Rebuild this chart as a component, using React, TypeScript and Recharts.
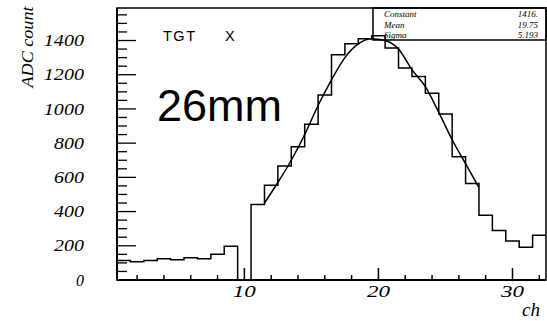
import React from "react";
import {
  ComposedChart,
  Line,
  XAxis,
  YAxis,
  ReferenceArea,
} from "recharts";

// histogram: one value per channel (bin centred on the channel number)
const channels = [
  1, 2, 3, 4, 5, 6, 7, 8, 9, 10, 11, 12, 13, 14, 15, 16,
  17, 18, 19, 20, 21, 22, 23, 24, 25, 26, 27, 28, 29, 30, 31, 32,
];
const adcCounts = [
  114, 107, 114, 124, 118, 130, 124, 150, 198, 0, 441, 554, 667, 779, 910, 1082,
  1317, 1381, 1410, 1428, 1356, 1239, 1190, 1092, 970, 720, 564, 378, 290, 228, 192, 261,
];

// gaussian fit curve
const fitCh = [
  11.5, 12.5, 13.5, 14.5, 15.5, 16.5, 17.5, 18.5, 19.5, 20.5, 21.5, 22.5, 23.5,
  24.5, 25.5, 26.5, 27.5,
];
const fitVal = [
  450, 570, 700, 850, 1020, 1170, 1300, 1380, 1410, 1400, 1350, 1230, 1130,
  980, 820, 680, 540,
];

const xTicks = [2, 4, 6, 8, 10, 12, 14, 16, 18, 20, 22, 24, 26, 28, 30, 32];
const yTicks = [
  0, 50, 100, 150, 200, 250, 300, 350, 400, 450, 500, 550, 600, 650, 700, 750,
  800, 850, 900, 950, 1000, 1050, 1100, 1150, 1200, 1250, 1300, 1350, 1400,
  1450, 1500, 1550,
];

const statNames = ["Constant", "Mean", "Sigma"];
const statValues = ["1416.", "19.75", "5.193"];

const X_MIN = 0.5;
const X_MAX = 32.5;
const Y_MAX = 1590;

const serif = "'Liberation Serif', 'DejaVu Serif', serif";
const sans = "'Liberation Sans', Arial, sans-serif";

// step line points: low edge of every bin + the last upper edge
const histData = channels.map((ch, i) => ({ x: ch - 0.5, y: adcCounts[i] }));
histData.push({ x: channels[channels.length - 1] + 0.5, y: adcCounts[adcCounts.length - 1] });

const fitData = fitCh.map((x, i) => ({ x, y: fitVal[i] }));

const XTick = (props: any) => {
  const { x, y, payload } = props;
  const v = payload.value;
  const major = v % 10 === 0;
  return (
    <g>
      <line x1={x} x2={x} y1={y} y2={y - (major ? 12 : 5)} stroke="#000" strokeWidth={1.5} />
      {major && (
        <text
          x={x}
          y={y + 17}
          textAnchor="middle"
          fontFamily={serif}
          fontStyle="italic"
          fontSize={16}
          textLength={23}
          lengthAdjust="spacingAndGlyphs"
          fill="#000"
        >
          {v}
        </text>
      )}
    </g>
  );
};

const YTick = (props: any) => {
  const { x, y, payload } = props;
  const v = payload.value;
  const major = v % 200 === 0;
  const label = String(v);
  return (
    <g>
      {v > 0 && (
        <line x1={x} x2={x + (major ? 19 : 10)} y1={y} y2={y} stroke="#000" strokeWidth={1.3} />
      )}
      {major && (
        <text
          x={x - 33}
          y={y}
          dy="0.35em"
          textAnchor="end"
          fontFamily={serif}
          fontStyle="italic"
          fontSize={16}
          textLength={label.length > 1 ? label.length * 10.3 - 1 : undefined}
          lengthAdjust="spacingAndGlyphs"
          fill="#000"
        >
          {label}
        </text>
      )}
    </g>
  );
};

export default function App() {
  return (
    <div style={{ position: "absolute", left: 0, top: 0, width: 547, height: 321, background: "#fff" }}>
      <ComposedChart
        width={547}
        height={321}
        margin={{ top: 8, right: 1, left: 0, bottom: 0 }}
      >
        <XAxis
          dataKey="x"
          type="number"
          domain={[X_MIN, X_MAX]}
          ticks={xTicks}
          allowDataOverflow
          height={41}
          tickSize={0}
          tickMargin={0}
          tickLine={false}
          axisLine={{ stroke: "#000", strokeWidth: 2 }}
          tick={<XTick />}
          interval={0}
        />
        <YAxis
          type="number"
          domain={[0, Y_MAX]}
          ticks={yTicks}
          allowDataOverflow
          width={117}
          tickSize={0}
          tickMargin={0}
          tickLine={false}
          axisLine={{ stroke: "#000", strokeWidth: 2 }}
          tick={<YTick />}
          interval={0}
        />
        <ReferenceArea
          x1={X_MIN}
          x2={X_MAX}
          y1={0}
          y2={Y_MAX}
          stroke="#000"
          strokeWidth={1.5}
          fill="none"
          ifOverflow="visible"
        />
        <Line
          data={histData}
          dataKey="y"
          type="stepAfter"
          stroke="#000"
          strokeWidth={1.5}
          dot={false}
          isAnimationActive={false}
        />
        <Line
          data={fitData}
          dataKey="y"
          type="monotone"
          stroke="#000"
          strokeWidth={1.5}
          dot={false}
          isAnimationActive={false}
        />

        {/* stats box */}
        <rect x={373} y={8} width={173} height={32} fill="none" stroke="#000" strokeWidth={1.5} />
        {statNames.map((n, i) => (
          <g key={n}>
            <text x={384} y={17 + i * 10.5} fontFamily={serif} fontStyle="italic" fontSize={9} fill="#000">
              {n}
            </text>
            <text x={538} y={17 + i * 10.5} textAnchor="end" fontFamily={serif} fontStyle="italic" fontSize={9} fill="#000">
              {statValues[i]}
            </text>
          </g>
        ))}

        <text x={163} y={41} fontFamily={sans} fontSize={14.5} letterSpacing={1.5} fill="#000">
          TGT
        </text>
        <text x={225} y={41} fontFamily={sans} fontSize={14.5} fill="#000">
          X
        </text>
        <text x={157} y={121} fontFamily={sans} fontSize={45} fill="#000">
          26mm
        </text>

        <text
          x={33}
          y={47}
          transform="rotate(-90 33 47)"
          textAnchor="middle"
          fontFamily={serif}
          fontStyle="italic"
          fontSize={16}
          textLength={81}
          lengthAdjust="spacingAndGlyphs"
          fill="#000"
        >
          ADC count
        </text>
        <text x={522} y={316} fontFamily={serif} fontStyle="italic" fontSize={19} fill="#000">
          ch
        </text>
      </ComposedChart>
    </div>
  );
}
